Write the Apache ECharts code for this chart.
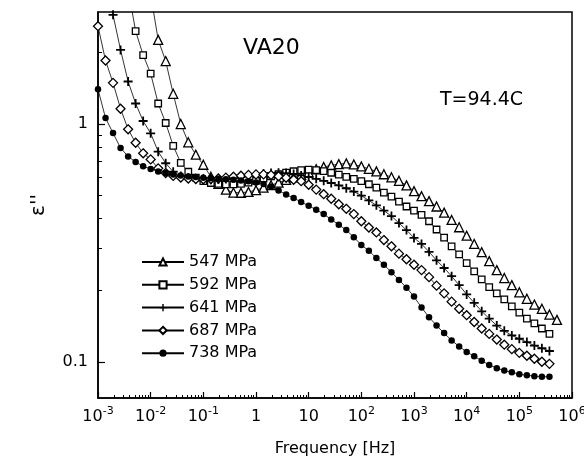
<!DOCTYPE html>
<html><head><meta charset="utf-8">
<script src="https://cdn.jsdelivr.net/npm/echarts@6/dist/echarts.min.js"></script>
<style>html,body{margin:0;padding:0;background:#fff}#c{width:584px;height:458px}</style>
</head><body><div id="c"></div>
<script>
const FONT = 'DejaVu Sans';
const frequency = [
0.001,0.00139,0.00193,0.00268,0.00373,0.00518,0.0072,
0.01,0.0139,0.0193,0.0268,0.0373,0.0518,0.072,
0.1,0.139,0.193,0.268,0.373,0.518,0.72,
1,1.39,1.93,2.68,3.73,5.18,7.2,
10,13.9,19.3,26.8,37.3,51.8,72,
100,139,193,268,373,518,720,
1000,1390,1930,2680,3730,5180,7200,
10000,13900,19300,26800,37300,51800,72000,
100000,139000,193000,268000,373000,518000];
const eps547 = [
null,null,null,null,null,null,5.5,
3.5,2.26,1.84,1.34,1.0,0.838,0.743,
0.674,0.60,0.56,0.53,0.515,0.514,0.518,
0.527,0.54,0.553,0.567,0.582,0.597,0.612,
0.627,0.645,0.66,0.67,0.678,0.683,0.676,
0.663,0.648,0.632,0.615,0.597,0.577,0.552,
0.522,0.497,0.474,0.45,0.424,0.395,0.368,
0.339,0.313,0.289,0.265,0.243,0.225,0.21,
0.196,0.184,0.174,0.167,0.158,0.15];
const eps592 = [
null,null,null,5.5,3.7,2.46,1.95,
1.63,1.22,1.01,0.81,0.687,0.63,0.595,
0.575,0.565,0.56,0.557,0.557,0.56,0.567,
0.577,0.59,0.602,0.615,0.625,0.633,0.64,
0.643,0.64,0.634,0.624,0.613,0.60,0.588,
0.575,0.558,0.54,0.515,0.495,0.472,0.45,
0.432,0.415,0.39,0.36,0.333,0.306,0.283,
0.26,0.24,0.222,0.206,0.194,0.183,0.171,
0.161,0.152,0.145,0.138,0.131,null];
const eps641 = [
null,3.9,2.88,2.05,1.51,1.22,1.03,
0.914,0.765,0.684,0.63,0.605,0.594,0.588,
0.585,0.583,0.584,0.587,0.592,0.598,0.605,
0.612,0.618,0.622,0.624,0.622,0.617,0.608,
0.598,0.588,0.577,0.565,0.552,0.537,0.52,
0.50,0.477,0.455,0.432,0.41,0.383,0.358,
0.332,0.313,0.29,0.267,0.248,0.229,0.21,
0.192,0.177,0.163,0.152,0.142,0.135,0.129,
0.125,0.121,0.117,0.114,0.111,null];
const eps687 = [
2.58,1.85,1.49,1.16,0.95,0.834,0.753,
0.71,0.651,0.622,0.605,0.596,0.59,0.587,
0.586,0.587,0.59,0.595,0.60,0.606,0.611,
0.614,0.614,0.61,0.603,0.594,0.583,0.575,
0.555,0.53,0.507,0.485,0.46,0.44,0.418,
0.39,0.367,0.35,0.325,0.306,0.285,0.27,
0.256,0.243,0.227,0.209,0.194,0.179,0.167,
0.157,0.147,0.138,0.131,0.124,0.118,0.113,
0.109,0.106,0.103,0.1,0.098,null];
const eps738 = [
1.40,1.06,0.916,0.793,0.731,0.692,0.664,
0.647,0.632,0.622,0.614,0.607,0.602,0.598,
0.595,0.592,0.589,0.586,0.583,0.579,0.574,
0.568,0.559,0.546,0.525,0.505,0.488,0.47,
0.453,0.436,0.418,0.397,0.377,0.358,0.334,
0.31,0.293,0.273,0.256,0.238,0.221,0.205,
0.188,0.169,0.154,0.142,0.132,0.123,0.116,
0.11,0.1055,0.101,0.097,0.094,0.0918,0.0904,
0.0886,0.0878,0.087,0.0865,0.0865,null];
const seriesNames = ['547 MPa','592 MPa','641 MPa','687 MPa','738 MPa'];
const seriesValues = [eps547, eps592, eps641, eps687, eps738];
const xTickValues = [0.001,0.01,0.1,1,10,100,1000,10000,100000,1000000];
const yTickValues = [0.1, 1];
const yMinorValues = [0.2,0.3,0.4,0.5,0.6,0.7,0.8,0.9,2];
const xMinorValues = [];
for (let d = -3; d <= 5; d++) for (let k = 2; k <= 9; k++) xMinorValues.push(Number((k * Math.pow(10, d)).toPrecision(6)));

const markers = [
  {symbol: 'triangle', size: 9, fill: '#fff', border: 1.3},
  {symbol: 'rect', size: 6.5, fill: '#fff', border: 1.3},
  {symbol: 'path://M4,0H6V4H10V6H6V10H4V6H0V4H4Z', size: 9, fill: '#000', border: 0},
  {symbol: 'diamond', size: 9, fill: '#fff', border: 1.3},
  {symbol: 'circle', size: 6.5, fill: '#000', border: 0}
];

const series = seriesNames.map((name, s) => ({
  name, type: 'line', xAxisIndex: 0, yAxisIndex: 0,
  data: frequency.map((f, i) => [f, seriesValues[s][i]]).filter(p => p[1] != null),
  symbol: markers[s].symbol, symbolSize: markers[s].size,
  showSymbol: true, clip: true, animation: false,
  lineStyle: {color: '#000', width: 0.8},
  itemStyle: {color: markers[s].fill, borderColor: '#000', borderWidth: markers[s].border},
  emphasis: {disabled: true}
}));

const xFmt = v => {
  const e = Math.round(Math.log10(v));
  if (e === 0) return '{b|1}';
  if (e === 1) return '{b|10}';
  return '{b|10}{s|' + e + '}';
};
const rich = {
  b: {fontSize: 16, lineHeight: 22, color: '#000', fontFamily: FONT},
  s: {fontSize: 11, verticalAlign: 'top', color: '#000', fontFamily: FONT}
};

const chart = echarts.init(document.getElementById('c'), null, {renderer: 'canvas'});
chart.setOption({
  animation: false,
  backgroundColor: '#fff',
  grid: {left: 98, right: 12, top: 12, bottom: 60, show: true, borderColor: '#000', borderWidth: 1.5,
         containLabel: false, outerBoundsMode: 'none'},
  xAxis: [
    {type: 'log', logBase: 10, min: 0.001, max: 1000000, position: 'bottom',
     axisLine: {show: true, onZero: false, lineStyle: {color: '#000', width: 1.5}},
     axisTick: {show: true, inside: true, length: 6, customValues: xTickValues, lineStyle: {color: '#000', width: 1.2}},
     axisLabel: {show: true, customValues: xTickValues, formatter: xFmt, rich, margin: 8, color: '#000', fontFamily: FONT, fontSize: 16},
     splitLine: {show: false},
     name: 'Frequency [Hz]', nameLocation: 'middle', nameGap: 43,
     nameTextStyle: {fontSize: 16, color: '#000', fontFamily: FONT}},
    {type: 'log', logBase: 10, min: 0.001, max: 1000000, position: 'bottom',
     axisLine: {show: false, onZero: false},
     axisTick: {show: true, inside: true, length: 3, customValues: xMinorValues, lineStyle: {color: '#000', width: 1}},
     axisLabel: {show: false}, splitLine: {show: false}}
  ],
  yAxis: [
    {type: 'log', logBase: 10, min: 0.0704, max: 2.96, position: 'left',
     axisLine: {show: true, onZero: false, lineStyle: {color: '#000', width: 1.5}},
     axisTick: {show: true, inside: true, length: 7, customValues: yTickValues, lineStyle: {color: '#000', width: 1.2}},
     axisLabel: {show: true, customValues: yTickValues, formatter: v => String(v), margin: 10, color: '#000', fontFamily: FONT, fontSize: 16},
     splitLine: {show: false},
     name: "ε''", nameLocation: 'middle', nameGap: 49, nameRotate: 90,
     nameTextStyle: {fontSize: 20, color: '#000', fontFamily: FONT}},
    {type: 'log', logBase: 10, min: 0.0704, max: 2.96, position: 'left',
     axisLine: {show: false, onZero: false},
     axisTick: {show: true, inside: true, length: 4, customValues: yMinorValues, lineStyle: {color: '#000', width: 1}},
     axisLabel: {show: false}, splitLine: {show: false}}
  ],
  legend: {
    orient: 'vertical', left: 141, top: 254, padding: 0, itemWidth: 42, itemHeight: 9, itemGap: 6.8,
    selectedMode: false, data: seriesNames,
    textStyle: {fontSize: 16, lineHeight: 16, color: '#000', fontFamily: FONT}
  },
  graphic: [
    {type: 'text', left: 243, top: 37, style: {text: 'VA20', fontSize: 22, fontFamily: FONT, fill: '#000'}},
    {type: 'text', left: 440, top: 91, style: {text: 'T=94.4C', fontSize: 19, fontFamily: FONT, fill: '#000'}}
  ],
  series
});
</script>
</body></html>
